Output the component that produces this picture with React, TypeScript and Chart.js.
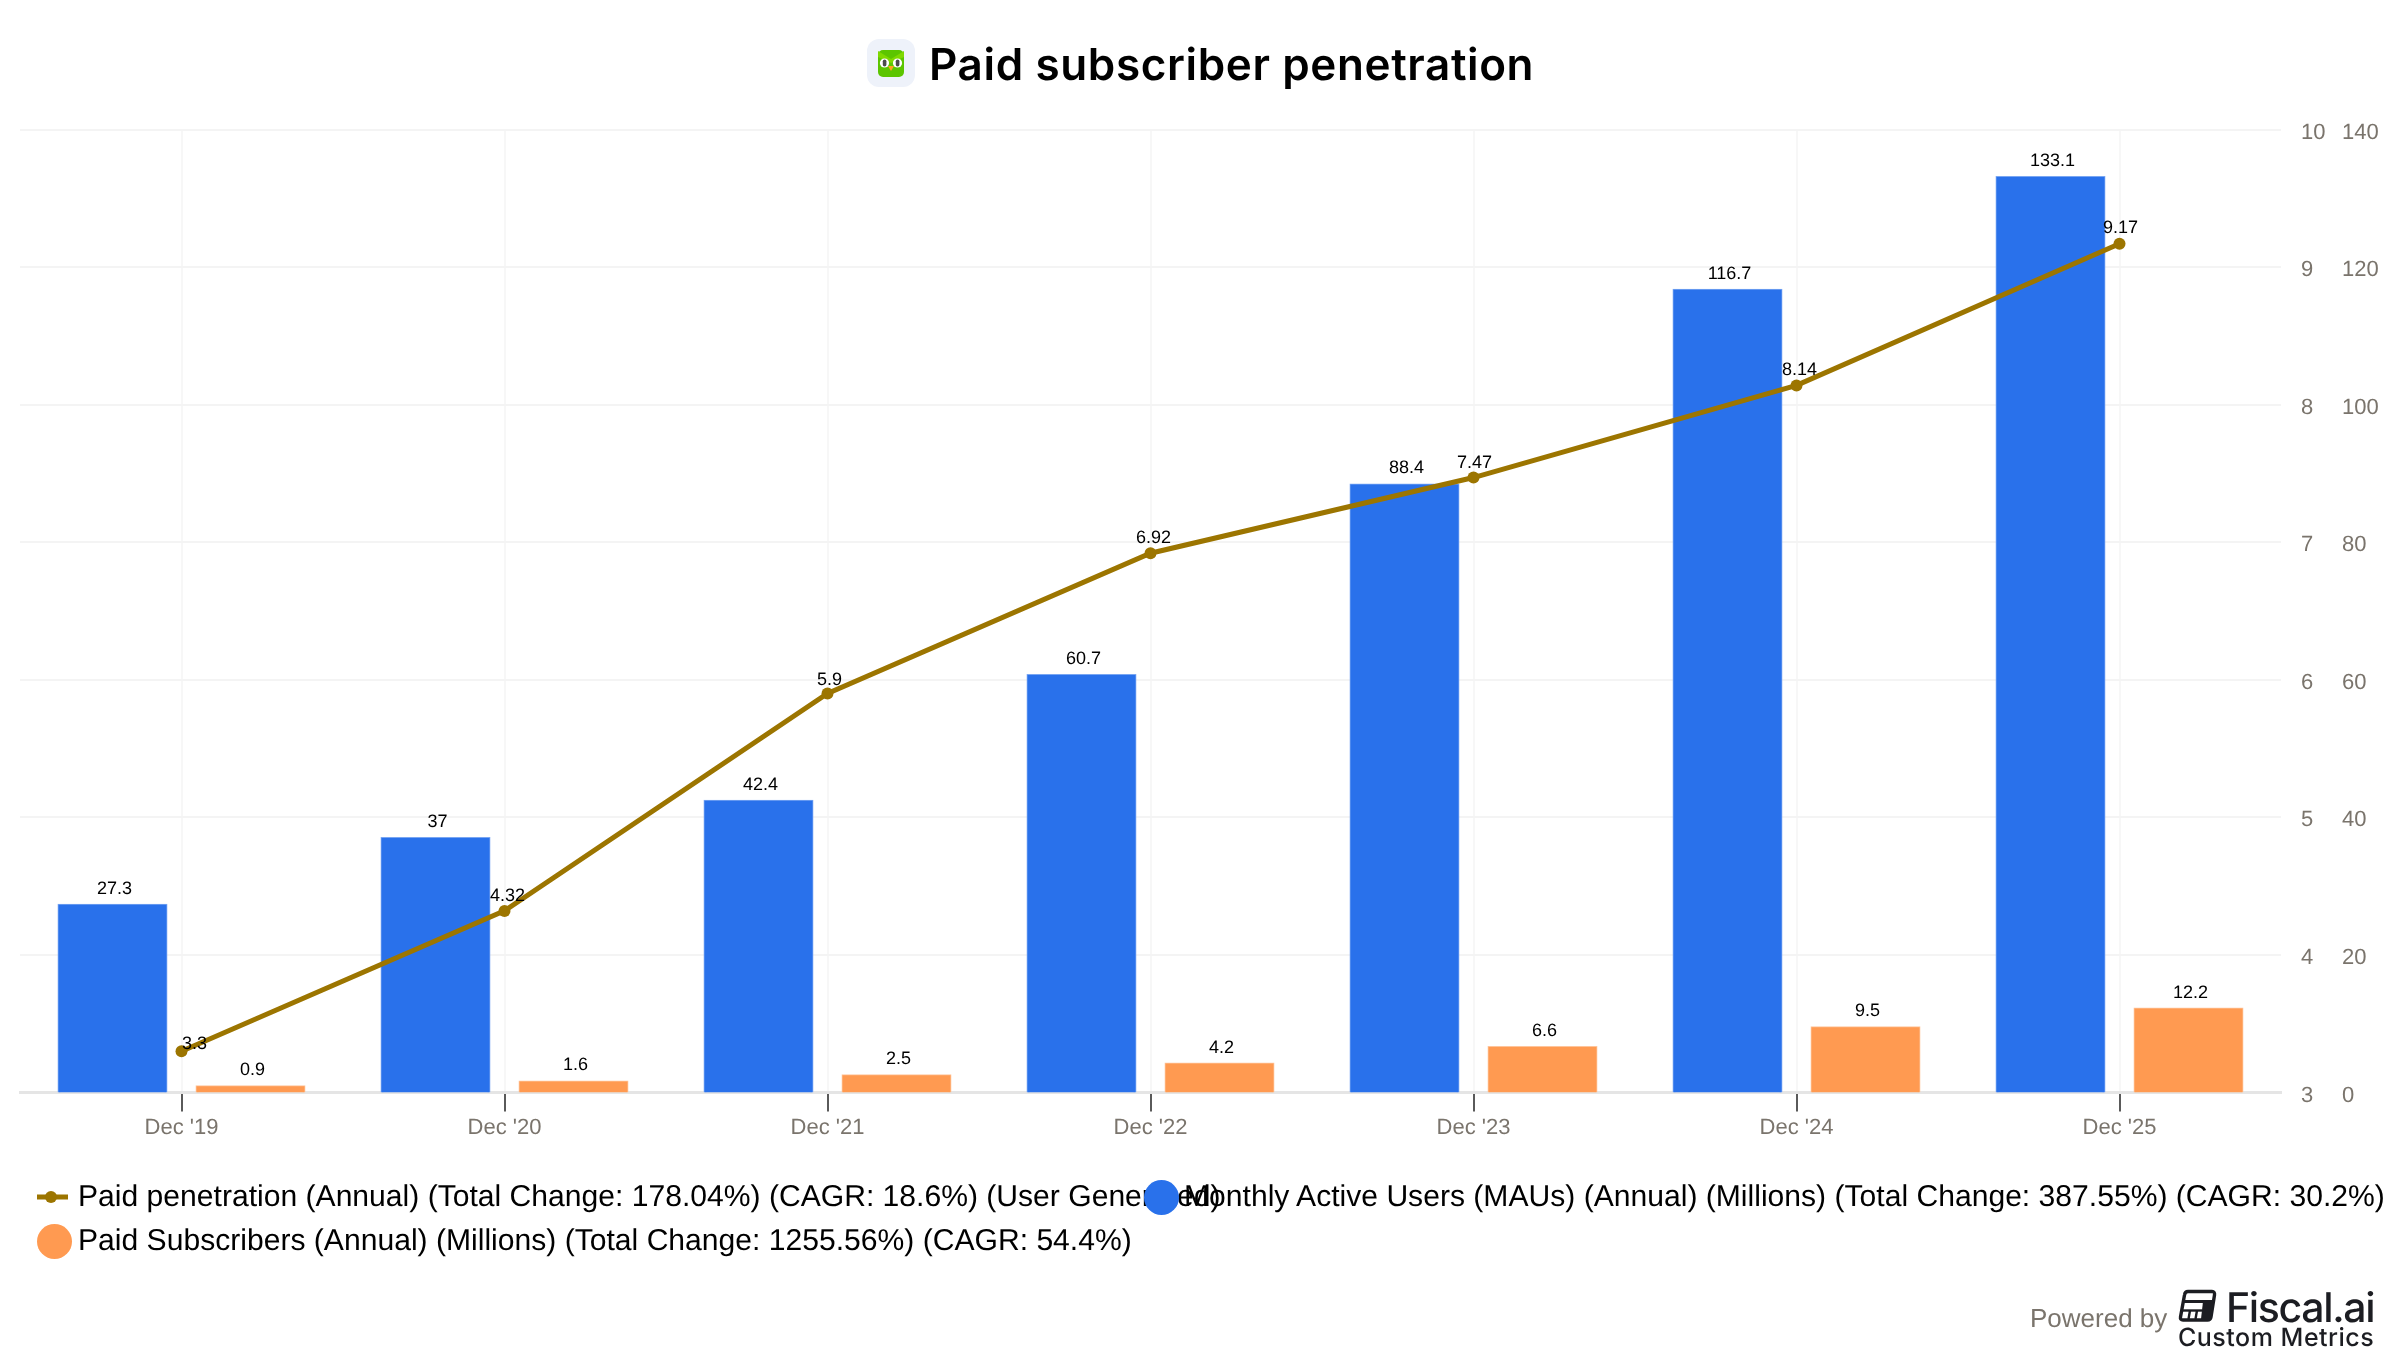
import React, { useEffect, useRef } from 'react';
import { Chart, registerables, Plugin } from 'chart.js';

Chart.register(...registerables);

const categories = ["Dec '19", "Dec '20", "Dec '21", "Dec '22", "Dec '23", "Dec '24", "Dec '25"];
const paidPenetration = [3.3, 4.32, 5.9, 6.92, 7.47, 8.14, 9.17];
const monthlyActiveUsers = [27.3, 37, 42.4, 60.7, 88.4, 116.7, 133.1];
const paidSubscribers = [0.9, 1.6, 2.5, 4.2, 6.6, 9.5, 12.2];

const titleText = 'Paid subscriber penetration';
const penetrationLegend = 'Paid penetration (Annual) (Total Change: 178.04%) (CAGR: 18.6%) (User Generated)';
const mauLegend = 'Monthly Active Users (MAUs) (Annual) (Millions) (Total Change: 387.55%) (CAGR: 30.2%)';
const subscribersLegend = 'Paid Subscribers (Annual) (Millions) (Total Change: 1255.56%) (CAGR: 54.4%)';

const BLUE = '#2971EB';
const ORANGE = '#FF9A51';
const OLIVE = '#9C7500';
const TICK_GREY = '#7A746C';
const SANS = '"Liberation Sans", Arial, sans-serif';

// nudges for the line's value labels, first one sits beside its point
const lineLabelDx = [13, 3, 2, 3, 1, 3, 1];
const lineLabelDy = [-7, -15, -14, -15, -15, -15, -16];

const valueLabels: Plugin = {
  id: 'valueLabels',
  beforeDraw(chart) {
    (chart.ctx as any).textRendering = 'geometricPrecision';
  },
  afterDatasetsDraw(chart) {
    const { ctx } = chart;
    ctx.save();
    ctx.font = `18px ${SANS}`;
    ctx.fillStyle = '#000';
    ctx.textAlign = 'center';
    ctx.textBaseline = 'middle';
    chart.data.datasets.forEach((ds, i) => {
      chart.getDatasetMeta(i).data.forEach((el, j) => {
        const text = String(ds.data[j]);
        if (ds.type === 'line') {
          ctx.fillText(text, el.x + lineLabelDx[j], el.y + lineLabelDy[j]);
        } else {
          ctx.fillText(text, el.x + 2, el.y - 16);
        }
      });
    });
    ctx.restore();
  },
};

const legendText: React.CSSProperties = {
  position: 'absolute',
  font: `30.1px/40px ${SANS}`,
  color: '#000',
  whiteSpace: 'nowrap',
};

const dot = (left: number, top: number, color: string): React.CSSProperties => ({
  position: 'absolute',
  left,
  top,
  width: 35,
  height: 35,
  borderRadius: '50%',
  background: color,
});

const App: React.FC = () => {
  const canvasRef = useRef<HTMLCanvasElement>(null);

  useEffect(() => {
    if (!canvasRef.current) return;
    const chart = new Chart(canvasRef.current, {
      type: 'bar',
      data: {
        labels: categories,
        datasets: [
          {
            type: 'line',
            label: 'Paid penetration',
            data: paidPenetration,
            yAxisID: 'y',
            borderColor: OLIVE,
            backgroundColor: OLIVE,
            borderWidth: 5,
            pointRadius: 6,
            pointBorderWidth: 0,
            tension: 0,
            order: 0,
          },
          {
            type: 'bar',
            label: 'Monthly Active Users',
            data: monthlyActiveUsers,
            yAxisID: 'y1',
            backgroundColor: BLUE,
            borderColor: '#79A6F2',
            borderWidth: 1,
            inflateAmount: 1,
            categoryPercentage: 0.8545,
            barPercentage: 0.783,
            order: 1,
          },
          {
            type: 'bar',
            label: 'Paid Subscribers',
            data: paidSubscribers,
            yAxisID: 'y1',
            backgroundColor: ORANGE,
            borderColor: '#FFC49A',
            borderWidth: 1,
            inflateAmount: 1,
            categoryPercentage: 0.8545,
            barPercentage: 0.783,
            order: 1,
          },
        ],
      },
      options: {
        responsive: false,
        animation: false,
        layout: { padding: { left: 20, top: 129.5, right: 0, bottom: 0 } },
        plugins: { legend: { display: false }, title: { display: false }, tooltip: { enabled: false } },
        scales: {
          x: {
            grid: { offset: false, color: '#F7F7F7', lineWidth: 2, tickColor: '#5A5A5A', tickWidth: 2, tickLength: 19 },
            border: { color: '#E5E5E5', width: 3 },
            ticks: {
              color: TICK_GREY,
              font: { family: SANS, size: 22 },
              padding: 3,
              maxRotation: 0,
              autoSkip: false,
            },
            afterFit: (scale) => { scale.height = 257.5; },
          },
          y: {
            position: 'right',
            min: 3,
            max: 10,
            grid: { color: '#F4F4F4', lineWidth: 2, drawTicks: false },
            border: { display: false },
            ticks: {
              stepSize: 1,
              color: TICK_GREY,
              font: { family: SANS, size: 22 },
              padding: 20,
              labelOffset: 3,
            },
            afterFit: (scale) => { scale.width = 48; },
          },
          y1: {
            position: 'right',
            min: 0,
            max: 140,
            grid: { display: false, drawTicks: false },
            border: { display: false },
            ticks: {
              stepSize: 20,
              color: TICK_GREY,
              font: { family: SANS, size: 22 },
              padding: 13,
              labelOffset: 3,
            },
            afterFit: (scale) => { scale.width = 71; },
          },
        },
      },
      plugins: [valueLabels],
    });
    return () => chart.destroy();
  }, []);

  return (
    <div style={{ position: 'absolute', left: 0, top: 0, width: 2400, height: 1350, background: '#fff', overflow: 'hidden', textRendering: 'geometricPrecision' }}>
      <canvas ref={canvasRef} width={2400} height={1350} style={{ display: 'block' }} />

      {/* title with app icon */}
      <svg style={{ position: 'absolute', left: 867, top: 39 }} width={48} height={48} viewBox="0 0 48 48">
        <rect width={48} height={48} rx={12} fill="#EEF2FA" />
        <rect x={11} y={11} width={26} height={27} rx={5} fill="#5CC500" />
        <path d="M11 12 L24 20 L37 12 L37 18 L24 24 L11 18 Z" fill="#7FD900" />
        <circle cx={17.5} cy={24} r={4.6} fill="#fff" />
        <circle cx={30.5} cy={24} r={4.6} fill="#fff" />
        <rect x={15.8} y={20.5} width={3.6} height={7} rx={1.8} fill="#4B4B4B" />
        <rect x={28.8} y={20.5} width={3.6} height={7} rx={1.8} fill="#4B4B4B" />
        <path d="M21 27 H27 L24 32 Z" fill="#FFA51F" />
      </svg>
      <div style={{ position: 'absolute', left: 929, top: 39, font: '600 44px/50px Inter, sans-serif', letterSpacing: 0.63, color: '#000', whiteSpace: 'nowrap' }}>
        {titleText}
      </div>

      {/* legend, second item overlaps the first like the source */}
      <svg style={{ position: 'absolute', left: 37, top: 1187 }} width={32} height={20}>
        <rect x={0} y={7.5} width={31} height={5} fill={OLIVE} />
        <circle cx={14} cy={10} r={6} fill={OLIVE} />
      </svg>
      <div style={{ ...legendText, left: 78, top: 1177 }}>{penetrationLegend}</div>
      <div style={dot(1144, 1179.5, BLUE)} />
      <div style={{ ...legendText, left: 1184, top: 1177 }}>{mauLegend}</div>
      <div style={dot(37, 1223.5, ORANGE)} />
      <div style={{ ...legendText, left: 78, top: 1221 }}>{subscribersLegend}</div>

      {/* footer */}
      <div style={{ position: 'absolute', left: 2030, top: 1301, font: `26px/34px ${SANS}`, color: TICK_GREY, whiteSpace: 'nowrap' }}>
        Powered by
      </div>
      <svg style={{ position: 'absolute', left: 2178, top: 1288 }} width={40} height={36} viewBox="0 0 40 36">
        <path d="M10 3.5 H34 Q37 3.5 36.5 7 L33 29 Q32.5 32 29.5 32 H5 Q2 32 2.5 29 L6.5 7 Q7 3.5 10 3.5 Z" fill="none" stroke="#1C1D22" strokeWidth={3.4} />
        <path d="M5.5 13.5 H36" stroke="#1C1D22" strokeWidth={3} />
        <path d="M25 13.5 H36 L33 31 H23 Z" fill="#1C1D22" />
        <path d="M3.5 22.5 H24" stroke="#1C1D22" strokeWidth={2.4} />
        <path d="M12 22.5 L10.5 31 M19 22.5 L17.5 31" stroke="#1C1D22" strokeWidth={2.4} />
      </svg>
      <div style={{ position: 'absolute', left: 2226, top: 1282, font: '500 41px/50px Inter, sans-serif', letterSpacing: -1.35, color: '#1C1D22', whiteSpace: 'nowrap' }}>
        Fiscal.ai
      </div>
      <div style={{ position: 'absolute', left: 2178, top: 1323, font: '500 25px/30px Inter, sans-serif', letterSpacing: 0.5, color: '#1C1D22', whiteSpace: 'nowrap' }}>
        Custom Metrics
      </div>
    </div>
  );
};

export default App;
